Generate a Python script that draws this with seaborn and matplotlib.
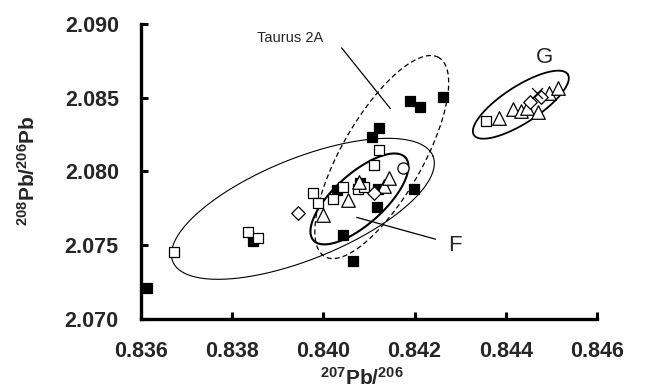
import numpy as np
import pandas as pd
import seaborn as sns
import matplotlib.pyplot as plt
from matplotlib.ticker import FormatStrFormatter

# --- measured isotope ratios -------------------------------------------------
# filled squares
fsq_x = [0.83613, 0.83846, 0.84044, 0.84066, 0.84117, 0.84198, 0.84119,
         0.84081, 0.84030, 0.84106, 0.84123, 0.84189, 0.84211, 0.84262]
fsq_y = [2.07209, 2.07527, 2.07568, 2.07392, 2.07757, 2.07878, 2.07878,
         2.07919, 2.07872, 2.08237, 2.08297, 2.08480, 2.08439, 2.08507]

# open squares
osq_x = [0.83673, 0.83835, 0.83857, 0.83978, 0.83989, 0.84022, 0.84044,
         0.84075, 0.84088, 0.84121, 0.84110, 0.84356]
osq_y = [2.07453, 2.07588, 2.07547, 2.07851, 2.07784, 2.07811, 2.07892,
         2.07878, 2.07892, 2.08149, 2.08047, 2.08345]

# open triangles
tri_x = [0.84000, 0.84055, 0.84077, 0.84132, 0.84143,
         0.84385, 0.84415, 0.84433, 0.84446, 0.84470, 0.84495, 0.84514]
tri_y = [2.07703, 2.07804, 2.07932, 2.07899, 2.07953,
         2.08365, 2.08426, 2.08412, 2.08432, 2.08405, 2.08534, 2.08568]

# open diamonds
dia_x = [0.83945, 0.84110, 0.84453, 0.84477]
dia_y = [2.07716, 2.07851, 2.08473, 2.08507]

# open circle
cir_x = [0.84174]
cir_y = [2.08027]

# crosses
crs_x = [0.84468]
crs_y = [2.08534]

# group ellipses: centre (data), semi-axes (px), tilt (deg), style
ellipses = [
    dict(cx=0.83955, cy=2.07747, a=140.4, b=50.4, ang=22.1, lw=0.8, ls='-'),
    dict(cx=0.84079, cy=2.07814, a=61.9, b=25.2, ang=42.0, lw=1.5, ls='-'),
    dict(cx=0.84128, cy=2.08098, a=114.7, b=40.4, ang=60.2, lw=0.9, ls=(0, (4, 2.5))),
    dict(cx=0.84433, cy=2.08453, a=55.9, b=18.3, ang=32.9, lw=1.3, ls='-'),
]

x_ticks = [0.836, 0.838, 0.840, 0.842, 0.844, 0.846]
y_ticks = [2.070, 2.075, 2.080, 2.085, 2.090]

sns.set_theme(style='white')
plt.rcParams['font.family'] = ['Liberation Sans', 'DejaVu Sans']
plt.rcParams['mathtext.fontset'] = 'custom'
plt.rcParams['mathtext.rm'] = 'Liberation Sans'
plt.rcParams['mathtext.bf'] = 'Liberation Sans:bold'

fig = plt.figure(figsize=(6.69, 3.91), dpi=100)
ax = fig.add_axes([141 / 669, 1 - 319 / 391, 456 / 669, 295 / 391])
ax.set_xlim(x_ticks[0], x_ticks[-1])
ax.set_ylim(y_ticks[0], y_ticks[-1])

# ellipses, built in screen space so the tilt is as seen on the page
fig.canvas.draw()
t = np.linspace(0, 2 * np.pi, 400)
for e in ellipses:
    c = ax.transData.transform((e['cx'], e['cy']))
    th = np.deg2rad(e['ang'])
    dx = e['a'] * np.cos(t) * np.cos(th) - e['b'] * np.sin(t) * np.sin(th)
    dy = e['a'] * np.cos(t) * np.sin(th) + e['b'] * np.sin(t) * np.cos(th)
    pts = ax.transData.inverted().transform(np.column_stack([c[0] + dx, c[1] + dy]))
    ax.plot(pts[:, 0], pts[:, 1], color='black', lw=e['lw'], ls=e['ls'], zorder=2)

common = dict(ax=ax, edgecolor='black', linewidth=0.9, legend=False, zorder=3)
sns.scatterplot(x=fsq_x, y=fsq_y, marker='s', s=42, color='black', **common)
sns.scatterplot(x=osq_x, y=osq_y, marker='s', s=55, color='white', **common)
sns.scatterplot(x=tri_x, y=tri_y, marker='^', s=95, color='white', **common)
sns.scatterplot(x=dia_x, y=dia_y, marker='D', s=48, color='white', **common)
sns.scatterplot(x=cir_x, y=cir_y, marker='o', s=65, color='white', **common)
ax.scatter(crs_x, crs_y, marker='x', s=60, color='black', linewidth=0.9, zorder=3)

# group labels with leader lines
ax.plot([0.84040, 0.84147], [2.08838, 2.08426], color='black', lw=0.9, zorder=2)
ax.text(0.83928, 2.08905, 'Taurus 2A', fontsize=10.5, ha='center', va='center')
ax.plot([0.84073, 0.84246], [2.07689, 2.07541], color='black', lw=0.9, zorder=2)
ax.text(0.84288, 2.07500, 'F', fontsize=16, ha='center', va='center')
ax.text(0.84484, 2.08770, 'G', fontsize=16, ha='center', va='center')

# axes styling
ax.set_xticks(x_ticks)
ax.set_yticks(y_ticks)
ax.xaxis.set_major_formatter(FormatStrFormatter('%.3f'))
ax.yaxis.set_major_formatter(FormatStrFormatter('%.3f'))
for side in ['top', 'right']:
    ax.spines[side].set_visible(False)
for side in ['left', 'bottom']:
    ax.spines[side].set_linewidth(2.4)
    ax.spines[side].set_color('black')
ax.tick_params(direction='in', length=5, width=2.2, color='black',
               labelsize=15.5, pad=16)
ax.tick_params(axis='x', bottom=True)
ax.tick_params(axis='y', left=True)
for lab in ax.get_xticklabels() + ax.get_yticklabels():
    lab.set_fontweight('bold')
ax.grid(False)

fig.text(28 / 669, 1 - 171 / 391, r'$\mathbf{^{208}Pb/^{206}Pb}$',
         rotation=90, fontsize=15, ha='center', va='center')
fig.text(362 / 669, 2 / 391, r'$\mathbf{^{207}Pb/^{206}}$',
         fontsize=15, ha='center', va='bottom')

fig.savefig('out.png', dpi=100)
